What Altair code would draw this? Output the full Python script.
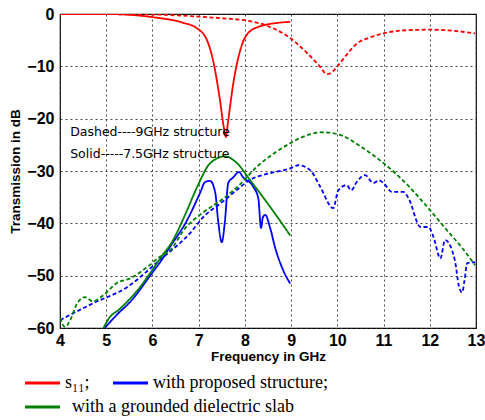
import altair as alt
import pandas as pd

# ---- data ----
s11_75_x = [4.0, 5.0, 5.5, 6.0, 6.67, 6.96, 7.18, 7.31, 7.46, 7.55, 7.59, 7.63, 7.75, 7.9, 8.11, 8.44, 8.7, 8.98]
s11_75_y = [0.0, 0.0, -0.15, -0.6, -1.7, -2.7, -5.0, -8.8, -16.4, -22.0, -23.5, -21.0, -13.2, -6.9, -3.3, -2.1, -1.7, -1.5]

s11_9_x = [4.0, 6.0, 7.0, 7.5, 7.9, 8.07, 8.55, 8.98, 9.35, 9.6, 9.78, 9.9, 10.0, 10.2, 10.43, 10.7, 11.0, 11.5, 12.0, 12.5, 12.98]
s11_9_y = [0.0, -0.1, -0.5, -0.8, -1.1, -1.3, -2.5, -4.6, -7.5, -9.8, -11.5, -11.0, -10.0, -7.8, -5.6, -4.5, -3.7, -3.1, -3.0, -3.2, -3.7]

prop_75_x = [4.97, 5.26, 5.52, 5.95, 6.2, 6.38, 6.75, 7.03, 7.14, 7.25, 7.36, 7.42, 7.5, 7.57, 7.64, 7.75, 7.87, 7.96, 8.18, 8.29, 8.35, 8.39, 8.44, 8.55, 8.65, 8.83, 8.98]
prop_75_y = [-60.0, -57.2, -55.0, -50.0, -47.0, -44.5, -39.4, -34.2, -32.1, -31.9, -34.2, -39.4, -43.6, -39.4, -32.3, -31.2, -30.2, -31.2, -33.0, -35.2, -40.9, -38.8, -38.4, -41.0, -44.5, -49.0, -51.5]

prop_9_x = [4.0, 4.71, 5.45, 6.16, 6.81, 7.1, 7.5, 7.83, 8.11, 8.55, 8.98, 9.16, 9.41, 9.63, 9.91, 10.02, 10.2, 10.3, 10.42, 10.6, 10.78, 10.9, 11.0, 11.18, 11.43, 11.54, 11.8, 11.97, 12.08, 12.23, 12.33, 12.48, 12.55, 12.63, 12.7, 12.75, 12.81, 12.98]
prop_9_y = [-58.5, -55.3, -52.2, -47.0, -41.9, -38.8, -36.0, -33.6, -31.7, -30.4, -29.5, -28.9, -29.8, -33.0, -37.1, -33.7, -32.7, -33.7, -32.1, -30.8, -32.3, -31.8, -32.3, -34.0, -34.0, -35.2, -40.7, -40.7, -42.6, -46.7, -43.2, -45.1, -47.4, -52.0, -53.2, -51.0, -47.6, -47.4]

slab_75_x = [4.94, 5.08, 5.26, 5.45, 5.73, 5.95, 6.2, 6.42, 6.7, 6.97, 7.25, 7.57, 7.83, 8.11, 8.55, 8.98]
slab_75_y = [-60.0, -57.9, -56.6, -55.0, -52.2, -49.5, -46.3, -43.6, -38.5, -33.0, -28.5, -27.2, -28.5, -31.7, -36.9, -42.3]

slab_9_x = [4.0, 4.11, 4.22, 4.37, 4.54, 4.71, 4.93, 5.23, 5.52, 5.88, 6.16, 6.38, 6.7, 7.1, 7.5, 7.83, 8.26, 8.98, 9.3, 9.7, 10.06, 10.5, 11.0, 11.5, 11.94, 12.37, 12.7, 12.98]
slab_9_y = [-58.1, -59.8, -58.5, -55.3, -54.1, -54.9, -53.8, -51.4, -50.5, -48.4, -46.4, -45.2, -41.0, -37.9, -35.5, -33.1, -29.2, -24.7, -23.3, -22.6, -23.1, -25.3, -28.5, -32.5, -36.8, -41.3, -44.7, -48.0]

series_keys = ["a", "b", "c"]
series_labels = ["s\u2081\u2081;", "with proposed structure;", "with a grounded dielectric slab"]
series_colors = ["#ff0000", "#0000ff", "#008000"]
structures = ["9GHz", "7.5GHz"]

notes = ["Dashed----9GHz structure", "Solid-----7.5GHz structure"]
notes_x = [4.22, 4.22]
notes_y = [-22.5, -26.7]

x_ticks = [4, 5, 6, 7, 8, 9, 10, 11, 12, 13]
y_ticks = [0, -10, -20, -30, -40, -50, -60]

rows = []
def add(xs, ys, key, struct):
    for a, b in zip(xs, ys):
        rows.append({"f": a, "db": b, "series": key, "struct": struct, "line": key + struct})

add(s11_75_x, s11_75_y, series_keys[0], structures[1])
add(s11_9_x, s11_9_y, series_keys[0], structures[0])
add(prop_75_x, prop_75_y, series_keys[1], structures[1])
add(prop_9_x, prop_9_y, series_keys[1], structures[0])
add(slab_75_x, slab_75_y, series_keys[2], structures[1])
add(slab_9_x, slab_9_y, series_keys[2], structures[0])
df = pd.DataFrame(rows)

notes_df = pd.DataFrame({"t": notes, "f": notes_x, "db": notes_y})

xscale = alt.Scale(domain=[4, 13], nice=False, zero=False)
yscale = alt.Scale(domain=[-60, 0], nice=False, zero=False)

lines = alt.Chart(df).mark_line(strokeWidth=1.8, clip=True, interpolate="monotone").encode(
    x=alt.X("f:Q", scale=xscale,
            axis=alt.Axis(title="Frequency in GHz", values=x_ticks, format="d", labelFlush=False)),
    y=alt.Y("db:Q", scale=yscale,
            axis=alt.Axis(title="Transmission in dB", values=y_ticks, format="d", labelFlush=False)),
    color=alt.Color("series:N",
                    scale=alt.Scale(domain=series_keys, range=series_colors),
                    legend=None),
    strokeDash=alt.StrokeDash("struct:N",
                              scale=alt.Scale(domain=structures, range=[[4, 2.5], [1, 0]]),
                              legend=None),
    detail="line:N",
    order="f:Q",
)

text = alt.Chart(notes_df).mark_text(align="left", baseline="middle", font="DejaVu Sans",
                                     fontSize=12.5, color="black").encode(
    x=alt.X("f:Q", scale=xscale), y=alt.Y("db:Q", scale=yscale), text="t:N")

# ---- hand-laid legend below the plot (layout positions in pixels, relative to plot origin) ----
leg_sym_x = [-35, 53, -35]
leg_txt_x = [5, 93, 12]
leg_row_y = [369, 369, 393]
one = pd.DataFrame({"k": [0]})
legend_layers = []
for lab, col, sx, tx, ry in zip(series_labels, series_colors, leg_sym_x, leg_txt_x, leg_row_y):
    legend_layers.append(
        alt.Chart(one).mark_rule(color=col, strokeWidth=3).encode(
            x=alt.value(sx), x2=alt.value(sx + 35), y=alt.value(ry))
    )
    legend_layers.append(
        alt.Chart(one).mark_text(text=lab, align="left", baseline="middle",
                                 font="Liberation Serif", fontSize=18, color="black").encode(
            x=alt.value(tx), y=alt.value(ry))
    )

chart = alt.layer(lines, text, *legend_layers).properties(
    width=416, height=314,
    autosize=alt.AutoSizeParams(type="none"),
    padding={"left": 60, "top": 14, "right": 9, "bottom": 92},
    background="white",
).configure_view(stroke="black", strokeWidth=1.2).configure_axis(
    grid=True, gridColor="#333333", gridDash=[2, 3], gridWidth=1, gridOpacity=0.9,
    domain=False, ticks=False,
    labelFont="Liberation Sans", labelFontWeight="bold", labelFontSize=16, labelColor="black",
    titleFont="Liberation Sans", titleFontWeight="bold", titleFontSize=13.5, titleColor="black",
).configure_axisX(labelPadding=4, titlePadding=1).configure_axisY(labelPadding=6, titlePadding=4)

chart.save("out.html", embed_options={"renderer": "svg", "actions": False})
